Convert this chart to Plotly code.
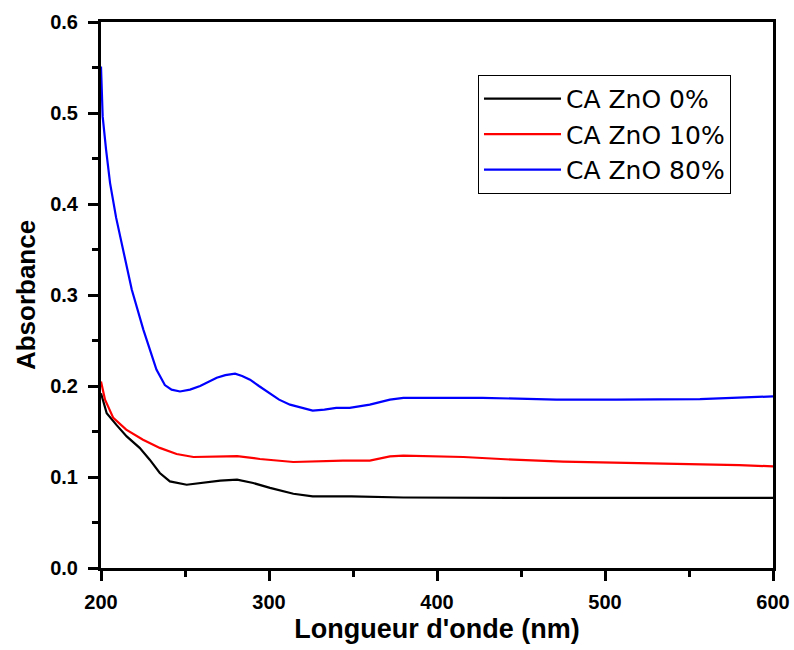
import plotly.graph_objects as go

# Wavelength (nm) and absorbance
wl_0 = [200, 203.4, 209.3, 215.3, 223, 229, 235, 241, 251, 261, 271, 281, 290.6, 300.6, 314.5, 326, 349, 380, 420, 460, 500, 540, 580, 600]
abs_0 = [0.192, 0.170, 0.157, 0.1446, 0.132, 0.119, 0.1044, 0.0952, 0.0915, 0.0934, 0.096, 0.097, 0.0934, 0.088, 0.0816, 0.0787, 0.0787, 0.0775, 0.077, 0.077, 0.077, 0.077, 0.0775, 0.077]

wl_10 = [200, 202.4, 207.3, 215, 225, 235, 245, 255, 274.8, 281, 294.6, 314.5, 344, 360, 372, 380, 415.8, 445.5, 475, 507, 546.6, 580, 600]
abs_10 = [0.205, 0.185, 0.165, 0.152, 0.141, 0.132, 0.1253, 0.122, 0.1226, 0.123, 0.1198, 0.1165, 0.118, 0.118, 0.1226, 0.1234, 0.122, 0.119, 0.117, 0.116, 0.1143, 0.113, 0.1117]

wl_80 = [200, 201, 203, 205.4, 209, 213.3, 218.3, 225.2, 233, 238, 242, 247, 253, 259, 268.9, 274, 279.8, 284, 288.7, 294, 300.6, 306, 312.5, 319, 326, 333, 340, 348, 360, 372, 380, 427, 471, 507, 556.5, 600]
abs_80 = [0.551, 0.496, 0.46, 0.423, 0.385, 0.350, 0.306, 0.262, 0.218, 0.201, 0.196, 0.194, 0.196, 0.200, 0.209, 0.212, 0.2135, 0.211, 0.207, 0.200, 0.192, 0.185, 0.1795, 0.176, 0.173, 0.174, 0.176, 0.176, 0.1795, 0.185, 0.187, 0.187, 0.185, 0.185, 0.1855, 0.1886]

names = ["CA ZnO 0%", "CA ZnO 10%", "CA ZnO 80%"]
colors = ["#000000", "#ff0000", "#0000ff"]

x_ticks = [200, 300, 400, 500, 600]
y_ticks = [0.0, 0.1, 0.2, 0.3, 0.4, 0.5, 0.6]

FONT = "Liberation Sans, Arial, sans-serif"

fig = go.Figure()
for wl, ab, nm, c in zip([wl_0, wl_10, wl_80], [abs_0, abs_10, abs_80], names, colors):
    fig.add_trace(go.Scatter(x=wl, y=ab, mode="lines", name=nm,
                             line=dict(color=c, width=2.2)))

axis_common = dict(
    showline=True, linecolor="black", linewidth=3, mirror=True,
    ticks="outside", ticklen=10, tickwidth=3, tickcolor="black",
    showgrid=False, zeroline=False, automargin=False,
    tickfont=dict(family=FONT, size=20, color="black", weight="bold"),
    minor=dict(ticks="outside", ticklen=6, tickwidth=3, tickcolor="black", showgrid=False),
)

fig.update_xaxes(range=[200, 600], tickvals=x_ticks, ticktext=[str(v) for v in x_ticks],
                 minor_dtick=50, ticklabelstandoff=4,
                 title=dict(text="Longueur d'onde (nm)", standoff=8,
                            font=dict(family=FONT, size=27, color="black", weight="bold")),
                 **axis_common)
fig.update_yaxes(range=[0, 0.6], tickvals=y_ticks, ticktext=[f"{v:.1f}" for v in y_ticks],
                 minor_dtick=0.05, ticklabelstandoff=6,
                 title=dict(text="Absorbance", standoff=8,
                            font=dict(family=FONT, size=26, color="black", weight="bold")),
                 **axis_common)

fig.update_layout(
    width=794, height=650,
    margin=dict(l=101, r=21, t=22, b=82),
    plot_bgcolor="white", paper_bgcolor="white",
    legend=dict(x=0.561, y=0.903, xanchor="left", yanchor="top",
                bordercolor="black", borderwidth=1, bgcolor="white",
                font=dict(family="DejaVu Sans, sans-serif", size=25, color="black"),
                itemwidth=77, tracegroupgap=0),
    showlegend=True,
)

fig.write_html(
    "out.html",
    config={"displayModeBar": False},
    post_script="document.body.style.margin='0';document.body.style.overflow='hidden';",
)
